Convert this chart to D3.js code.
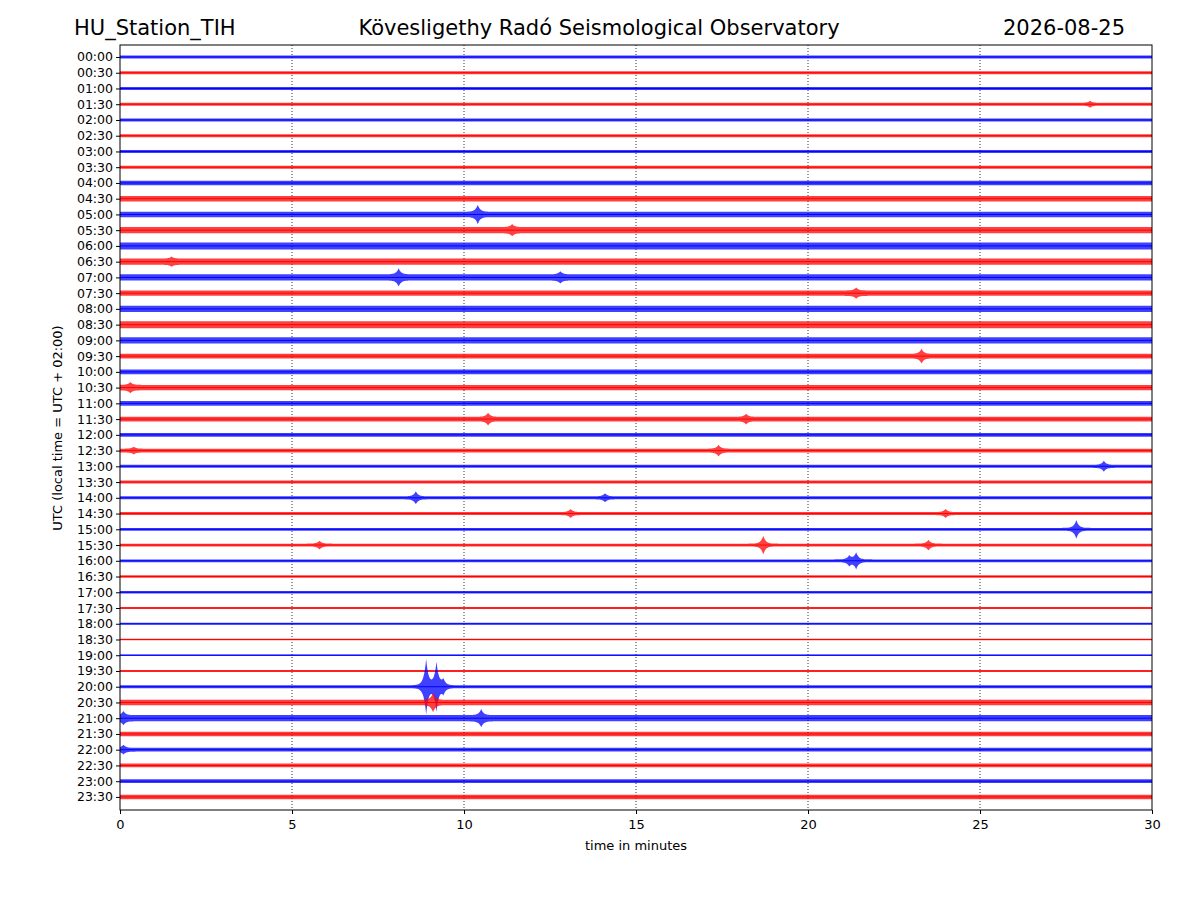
<!DOCTYPE html>
<html><head><meta charset="utf-8">
<script src="https://cdn.jsdelivr.net/npm/d3@7"></script>
<style>body{margin:0;background:#fff}text{font-family:"DejaVu Sans",sans-serif}</style>
</head><body><svg id="c" width="1200" height="900"></svg>
<script>
const rowLabels = [];
for (let h = 0; h < 24; h++) { const hh = String(h).padStart(2,"0"); rowLabels.push(hh+":00", hh+":30"); }
// base half-amplitude of background noise per row (pixels)
const baseAmp = [1.5,1.5,1.4,1.4,1.5,1.5,1.5,1.5,2.3,2.7, 2.7,3.1,3.5,3.1,3.1,2.7,3.1,3.5,3.1,2.3, 2.3,2.7,2.3,2.3,1.9,1.9,1.5,1.5,1.5,1.5, 1.4,1.4,1.4,1.2,1.2,0.9,0.9,0.8,0.8,0.9, 1.5,2.7,3.1,2.3,1.9,1.9,1.9,2.3];
// events: [row, minute, half-amplitude px]
const events = [
 [3,28.2,2],[10,10.4,7],[11,11.4,3],[13,1.5,2],[14,8.1,6],[14,12.8,3],[15,21.4,3],[19,23.3,5],[21,0.3,3],[23,10.7,4],[23,18.2,3],
 [25,17.4,4],[25,0.4,2],[26,28.6,4],[28,8.6,5],[28,14.1,3],[29,13.1,3],[29,24.0,3],
 [30,27.8,8],[31,18.7,8],[31,23.5,4],[31,5.8,3],[32,21.4,7],[32,21.2,4],
 [40,8.9,26],[40,9.2,23],[40,9.4,6],[41,9.1,7],[42,10.5,6],[42,0.1,4],[44,0.1,3]
];
const colors = ["#0000ff","#ff0000"];
const xTicks = [0,5,10,15,20,25,30];

const svg = d3.select("#c");
const L=120,R=1152,T=45,B=810;
const x = d3.scaleLinear().domain([0,30]).range([L,R]);
const y = d3.scaleLinear().domain([-0.762,47.83]).range([T,B]);

svg.append("g").selectAll("line").data(xTicks.slice(1,-1)).join("line")
 .attr("x1",d=>x(d)).attr("x2",d=>x(d)).attr("y1",T).attr("y2",B)
 .attr("stroke","#000").attr("stroke-width",0.8).attr("stroke-dasharray","1,2");

const ts = d3.range(0,30.0001,0.02);
rowLabels.forEach((lab,i)=>{
  const env = ts.map(t=>{
    let a = baseAmp[i];
    events.filter(e=>e[0]===i).forEach(e=>{ a += e[2]*Math.exp(-Math.abs(t-e[1])/0.07); });
    return [t,a];
  });
  const area = d3.area().x(d=>x(d[0])).y0(d=>y(i)-d[1]).y1(d=>y(i)+d[1]);
  svg.append("path").attr("d",area(env)).attr("fill",colors[i%2]).attr("fill-opacity",0.75);
  svg.append("line").attr("x1",L).attr("x2",R).attr("y1",y(i)).attr("y2",y(i)).attr("stroke",colors[i%2]).attr("stroke-width",1);
});

svg.append("rect").attr("x",L).attr("y",T).attr("width",R-L).attr("height",B-T).attr("fill","none").attr("stroke","#000");
svg.append("g").attr("transform",`translate(0,${B})`).call(d3.axisBottom(x).tickValues(xTicks).tickSizeOuter(0).tickSize(4))
 .call(g=>g.selectAll("text").attr("font-size",13).attr("font-family","DejaVu Sans").attr("dy","0.9em"))
 .call(g=>g.select(".domain").remove());
svg.append("g").attr("transform",`translate(${L},0)`).call(d3.axisLeft(y).tickValues(d3.range(48)).tickFormat(i=>rowLabels[i]).tickSize(4).tickSizeOuter(0))
 .call(g=>g.selectAll("text").attr("font-size",12.5).attr("font-family","DejaVu Sans"))
 .call(g=>g.select(".domain").remove());

svg.append("text").attr("x",636).attr("y",850).attr("text-anchor","middle").attr("font-size",13).text("time in minutes");
svg.append("text").attr("transform","translate(62,428) rotate(-90)").attr("text-anchor","middle").attr("font-size",13).text("UTC (local time = UTC + 02:00)");
svg.append("text").attr("x",74).attr("y",35).attr("font-size",21).text("HU_Station_TIH");
svg.append("text").attr("x",599).attr("y",35).attr("text-anchor","middle").attr("font-size",21).text("Kövesligethy Radó Seismological Observatory");
svg.append("text").attr("x",1125).attr("y",35).attr("text-anchor","end").attr("font-size",21).text("2026-08-25");
</script></body></html>
